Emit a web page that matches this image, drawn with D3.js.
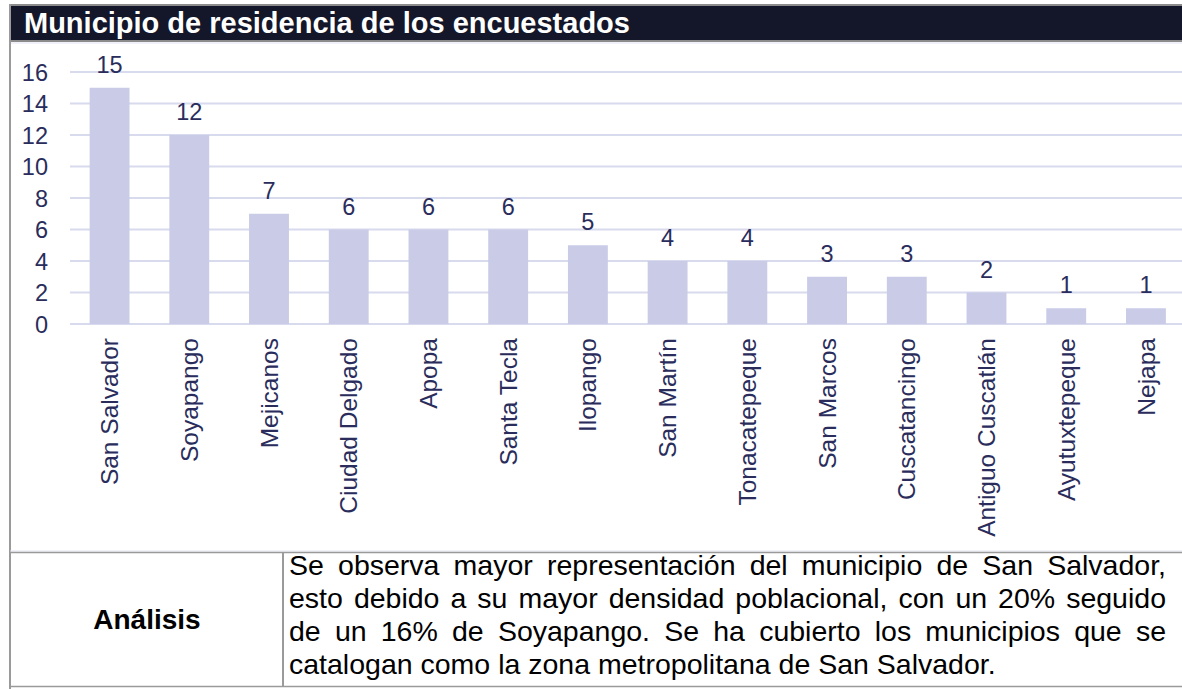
<!DOCTYPE html>
<html>
<head>
<meta charset="utf-8">
<script src="https://cdn.jsdelivr.net/npm/d3@7"></script>
<style>
  html, body { margin: 0; padding: 0; background: #fff; }
  svg { display: block; font-family: Arial, "Liberation Sans", sans-serif; }
</style>
</head>
<body>
<svg id="chart" width="1182" height="689"></svg>
<script>
// Municipalities of the respondents and their counts
const categories = ["San Salvador", "Soyapango", "Mejicanos", "Ciudad Delgado", "Apopa",
  "Santa Tecla", "Ilopango", "San Martín", "Tonacatepeque", "San Marcos",
  "Cuscatancingo", "Antiguo Cuscatlán", "Ayutuxtepeque", "Nejapa"];
const values = [15, 12, 7, 6, 6, 6, 5, 4, 4, 3, 3, 2, 1, 1];
const yTicks = [0, 2, 4, 6, 8, 10, 12, 14, 16];

const title = "Municipio de residencia de los encuestados";
const analysisLabel = "Análisis";
const analysisLines = [
  "Se observa mayor representación del municipio de San Salvador,",
  "esto debido a su mayor densidad poblacional, con un 20% seguido",
  "de un 16% de Soyapango. Se ha cubierto los municipios que se",
  "catalogan como la zona metropolitana de San Salvador."
];

const svg = d3.select("#chart");
const navy = "#2a2d5c";
const fontFamily = "Arial, 'Liberation Sans', sans-serif";

// Title banner
svg.append("rect").attr("x", 9).attr("y", 4).attr("width", 1173).attr("height", 38).attr("fill", "#8c8c8c");
svg.append("rect").attr("x", 11).attr("y", 6).attr("width", 1171).attr("height", 34).attr("fill", "#141729");
svg.append("line").attr("x1", 11).attr("x2", 1182).attr("y1", 43).attr("y2", 43)
  .attr("stroke", "#e2e3f3").attr("stroke-width", 1);
svg.append("text").attr("x", 24).attr("y", 33)
  .attr("fill", "#ffffff").attr("font-size", 29).attr("font-weight", "bold")
  .text(title);

// Frame left edge
svg.append("line").attr("x1", 10).attr("x2", 10).attr("y1", 4).attr("y2", 689)
  .attr("stroke", "#9a9a9a").attr("stroke-width", 2);

// Scales
const x = d3.scaleBand().domain(categories).range([69.7, 1185.8]).paddingInner(0.5).paddingOuter(0.25);
const y = d3.scaleLinear().domain([0, 16]).range([324, 72]);

// Gridlines
svg.append("g").selectAll("line").data(yTicks).join("line")
  .attr("x1", 70).attr("x2", 1182)
  .attr("y1", d => y(d)).attr("y2", d => y(d))
  .attr("stroke", "#d8daee").attr("stroke-width", 2);

// Y axis labels
const yAxis = d3.axisLeft(y).tickValues(yTicks).tickSize(0).tickPadding(0);
const yg = svg.append("g").attr("transform", "translate(48,0)").call(yAxis);
yg.select(".domain").remove();
yg.selectAll("text").attr("fill", navy).attr("font-size", 23.5)
  .attr("font-family", fontFamily).attr("dy", "0.35em");

// Bars
svg.append("g").selectAll("rect").data(values).join("rect")
  .attr("x", (d, i) => x(categories[i]))
  .attr("y", d => y(d))
  .attr("width", x.bandwidth())
  .attr("height", d => y(0) - y(d))
  .attr("fill", "#c9cbe7");

// Value labels
svg.append("g").selectAll("text").data(values).join("text")
  .attr("x", (d, i) => x(categories[i]) + x.bandwidth() / 2)
  .attr("y", d => y(d) - 15)
  .attr("text-anchor", "middle")
  .attr("fill", navy).attr("font-size", 23.5)
  .text(d => d);

// Category labels (rotated)
const xAxis = d3.axisBottom(x).tickSize(0).tickPadding(0);
const xg = svg.append("g").attr("transform", "translate(0,338)").call(xAxis);
xg.select(".domain").remove();
xg.selectAll("text")
  .attr("fill", navy).attr("font-size", 24.5)
  .attr("font-family", fontFamily)
  .attr("text-anchor", "end")
  .attr("transform", "rotate(-90)")
  .attr("x", 0).attr("y", 0).attr("dy", "0.35em");

// Analysis table
svg.append("line").attr("x1", 10).attr("x2", 1182).attr("y1", 551).attr("y2", 551)
  .attr("stroke", "#e2e3f3").attr("stroke-width", 1);
svg.append("line").attr("x1", 10).attr("x2", 1182).attr("y1", 552.5).attr("y2", 552.5)
  .attr("stroke", "#9a9a9a").attr("stroke-width", 1.5);
svg.append("line").attr("x1", 283).attr("x2", 283).attr("y1", 552).attr("y2", 687)
  .attr("stroke", "#9a9a9a").attr("stroke-width", 2);
svg.append("line").attr("x1", 10).attr("x2", 1182).attr("y1", 686.5).attr("y2", 686.5)
  .attr("stroke", "#9a9a9a").attr("stroke-width", 1.5);

svg.append("text").attr("x", 147).attr("y", 629)
  .attr("text-anchor", "middle").attr("font-size", 28).attr("font-weight", "bold")
  .attr("fill", "#000").text(analysisLabel);

// Justified paragraph: spread the spaces so each line (but the last) fills the cell
const paraLeft = 289, paraRight = 1166;
const para = svg.append("g");
analysisLines.forEach((line, i) => {
  const t = para.append("text")
    .attr("x", paraLeft).attr("y", 575 + i * 33)
    .attr("font-size", 28.5).attr("fill", "#000")
    .text(line);
  if (i < analysisLines.length - 1) {
    const natural = t.node().getComputedTextLength();
    const spaces = (line.match(/ /g) || []).length;
    t.attr("word-spacing", (paraRight - paraLeft - natural) / spaces);
  }
});
</script>
</body>
</html>
